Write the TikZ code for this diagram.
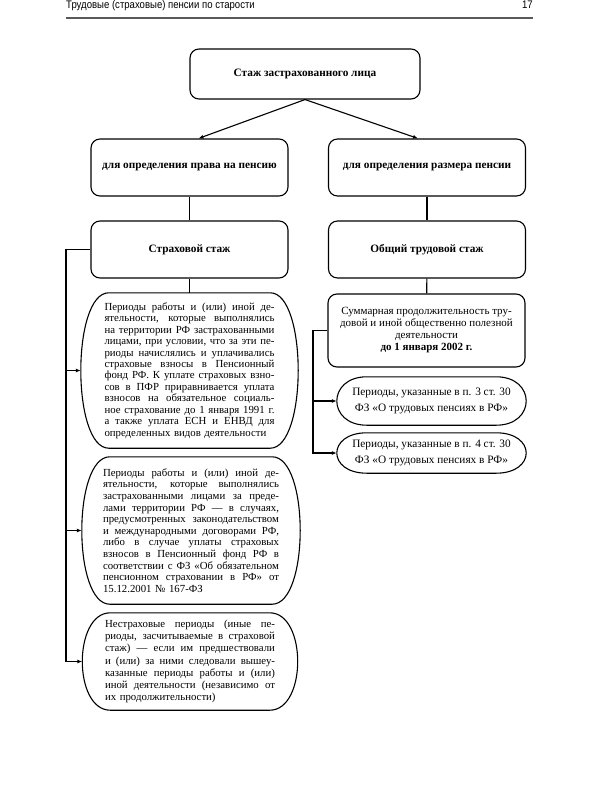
\documentclass[tikz,border=0pt]{standalone}
\usepackage{fontspec}
\setmainfont{Liberation Serif}
\newfontfamily\headfont[FakeStretch=0.87]{Liberation Sans}
\usetikzlibrary{positioning,arrows.meta,calc}
\setlength{\parindent}{0pt}

% one justified line of a period box
\newlength{\perw}
\newcommand{\jl}[1]{{\spaceskip=0pt\xspaceskip=0pt\makebox[\perw][s]{#1}}\\}

\begin{document}
\begin{tikzpicture}[x=1pt, y=-1pt,
  block/.style={rectangle, rounded corners=9pt, draw, line width=1.1pt,
    minimum width=197pt, minimum height=57pt, align=center,
    font=\bfseries\fontsize{11.3}{13}\selectfont},
  barrel/.style={rectangle, append after command={\pgfextra{
    \draw[line width=1.1pt]
    ($(\tikzlastnode.north west)+(#1,0)$) -- ($(\tikzlastnode.north east)+(-#1,0)$)
    .. controls ($(\tikzlastnode.north east)+(#1/3,0)$) and ($(\tikzlastnode.south east)+(#1/3,0)$)
    .. ($(\tikzlastnode.south east)+(-#1,0)$) -- ($(\tikzlastnode.south west)+(#1,0)$)
    .. controls ($(\tikzlastnode.south west)+(-#1/3,0)$) and ($(\tikzlastnode.north west)+(-#1/3,0)$)
    .. cycle;}}},
  period/.style={barrel=28, inner xsep=20pt, text width=#1, align=left,
    execute at begin node={\setlength{\perw}{#1}},
    font=\fontsize{10.8}{11.45}\selectfont},
  pshort/.style={barrel=30, minimum width=189pt, minimum height=48pt,
    inner xsep=0pt, align=center, font=\fontsize{11.3}{16}\selectfont},
  arr/.style={line width=1.1pt, -{Latex[length=5pt, width=4pt]}},
  link/.style={line width=1.1pt},
]
  \useasboundingbox[fill=white] (0,0) rectangle (600,800);

  % === running head ===
  \node[anchor=base west, inner sep=0pt, font=\headfont\fontsize{11}{12}\selectfont]
    (runhead) at (66,9) {Трудовые (страховые) пенсии по старости};
  \node[anchor=base east, inner sep=0pt, font=\headfont\fontsize{11}{12}\selectfont]
    (pageno) at (533,9) {17};
  \draw[black!65, line width=1.5pt] (66,18) -- (533,18);

  % === top and the two branches ===
  \node[block, minimum width=230pt, minimum height=50pt] (stazh) at (305,74) {Стаж застрахованного лица};
  \node[block] (pravo)  at (189.5,167.5) {для определения права на пенсию};
  \node[block] (razmer) at (427,167.5)   {для определения размера пенсии};
  \node[block] (strah)  at (189.5,249.5) {Страховой стаж};
  \node[block] (obsch)  at (427,249.5)   {Общий трудовой стаж};

  % === left column: insurance periods ===
  \node[period=170pt, minimum width=217pt, minimum height=155pt] (per1) at (189.5,370.5) {%
    \jl{Периоды работы и (или) иной де-}
    \jl{ятельности, которые выполнялись}
    \jl{на территории РФ застрахованными}
    \jl{лицами, при условии, что за эти пе-}
    \jl{риоды начислялись и уплачивались}
    \jl{страховые взносы в Пенсионный}
    \jl{фонд РФ. К уплате страховых взно-}
    \jl{сов в ПФР приравнивается уплата}
    \jl{взносов на обязательное социаль-}
    \jl{ное страхование до 1 января 1991 г.}
    \jl{а также уплата ЕСН и ЕНВД для}
    определенных видов деятельности};
  \node[period=176pt, minimum width=218pt, minimum height=147pt,
    font=\fontsize{10.8}{11.6}\selectfont] (per2) at (191,530.5) {%
    \jl{Периоды работы и (или) иной де-}
    \jl{ятельности, которые выполнялись}
    \jl{застрахованными лицами за преде-}
    \jl{лами территории РФ — в случаях,}
    \jl{предусмотренных законодательством}
    \jl{и международными договорами РФ,}
    \jl{либо в случае уплаты страховых}
    \jl{взносов в Пенсионный фонд РФ в}
    \jl{соответствии с ФЗ «Об обязательном}
    \jl{пенсионном страховании в РФ» от}
    15.12.2001 № 167-ФЗ};
  \node[period=170pt, minimum width=215pt, minimum height=97pt,
    font=\fontsize{10.8}{12.2}\selectfont] (nestrah) at (190,661.5) {%
    \jl{Нестраховые периоды (иные пе-}
    \jl{риоды, засчитываемые в страховой}
    \jl{стаж) — если им предшествовали}
    \jl{и (или) за ними следовали вышеу-}
    \jl{казанные периоды работы и (или)}
    \jl{иной деятельности (независимо от}
    их продолжительности)};

  % === right column: total length of service ===
  \node[block, minimum height=73pt, font=\fontsize{11}{12}\selectfont] (summ) at (426.5,330.5)
    {Суммарная продолжительность тру-\\довой и иной общественно полезной\\деятельности\\
     \textbf{до 1 января 2002 г.}};
  \node[pshort] (p3) at (431.5,401) {Периоды, указанные в п. 3 ст. 30\\ФЗ «О трудовых пенсиях в РФ»};
  \node[pshort, minimum height=40pt] (p4) at (431.5,453) {Периоды, указанные в п. 4 ст. 30\\ФЗ «О трудовых пенсиях в РФ»};

  % === connectors ===
  \draw[arr] (stazh.south) -- ([xshift=9pt]pravo.north);
  \draw[arr] (stazh.south) -- ([xshift=-9pt]razmer.north);
  \draw[link] (pravo) -- (strah);
  \draw[link] (razmer) -- (obsch);
  \draw[link] (strah) -- (per1);
  \draw[link] (obsch) -- (summ);

  \coordinate (ltrunk) at (66,0);
  \draw[arr] (strah.west) -- (strah.west -| ltrunk) |- (nestrah.west);
  \draw[arr] (per1.west -| ltrunk) -- (per1.west);
  \draw[arr] (per2.west -| ltrunk) -- (per2.west);

  \coordinate (rtrunk) at (313,0);
  \draw[arr] (summ.west) -- (summ.west -| rtrunk) |- (p4.west);
  \draw[arr] (p3.west -| rtrunk) -- (p3.west);

\end{tikzpicture}
\end{document}
